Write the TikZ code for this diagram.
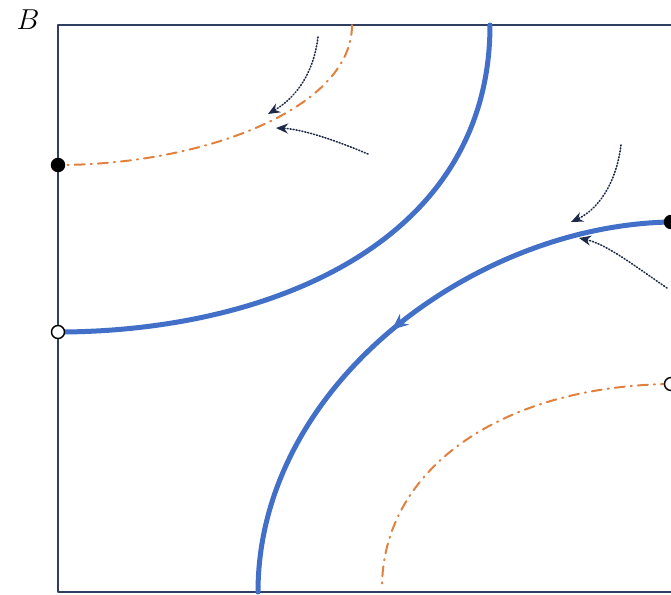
\documentclass[tikz,border=0pt]{standalone}
\usetikzlibrary{arrows.meta,decorations.markings}
\definecolor{frame}{HTML}{2E3F62}
\definecolor{sepblue}{HTML}{4270C8}
\definecolor{orborange}{HTML}{E2803E}
\definecolor{flownavy}{HTML}{1C2A48}
\begin{document}
\begin{tikzpicture}[x=0.5pt,y=-0.5pt,line cap=round,line join=round,
	sep/.style={sepblue,line width=2.5pt},
	orb/.style={orborange,line width=1pt,dash pattern=on 5pt off 3pt on 0.6pt off 3pt},
	flow/.style={flownavy,line width=0.8pt,dash pattern=on 0.5pt off 1pt,-{Stealth[length=6pt,width=5pt]}},
	dot/.style={circle,draw=black,line width=0.7pt,inner sep=0pt,minimum size=6.5pt},
	midarrow/.style={postaction={decorate},decoration={markings,mark=at position 0.5 with {\arrow{Stealth[length=8pt,width=7pt]}}}}]
	\clip (0,0) rectangle (671,595);
	\fill[white] (0,0) rectangle (671,595);
	\draw[frame,line width=0.8pt] (58,25) rectangle (700,592);
	\node (lab) at (28,20) {\Large$B$};
	% end points
	\coordinate (s1a) at (490,25);
	\coordinate (s1b) at (58,332);
	\coordinate (o1a) at (352,25);
	\coordinate (o1b) at (58,165);
	\coordinate (s2a) at (671,222);
	\coordinate (s2b) at (258,592);
	\coordinate (o2a) at (671,384);
	\coordinate (o2b) at (382,588);
	% curves
	\draw[sep] (s1a) .. controls (490,245) and (265,332) .. (s1b);
	\draw[orb] (o1a) .. controls (352,110) and (200,165) .. (o1b);
	\draw[sep,midarrow] (s2a) .. controls (475,225) and (258,385) .. (s2b);
	\draw[orb] (o2a) .. controls (500,386) and (382,470) .. (o2b);
	% flow arrows
	\coordinate (f1) at (318,37);  \coordinate (h1) at (268,114);
	\coordinate (f2) at (368,154); \coordinate (h2) at (276,128);
	\coordinate (f3) at (621,145); \coordinate (h3) at (571,222);
	\coordinate (f4) at (667,288); \coordinate (h4) at (579,238);
	\draw[flow] (f1) .. controls (313,78) and (292,100) .. (h1);
	\draw[flow] (f2) .. controls (330,138) and (300,129) .. (h2);
	\draw[flow] (f3) .. controls (616,185) and (597,210) .. (h3);
	\draw[flow] (f4) .. controls (632,264) and (606,244) .. (h4);
	% points on the edges
	\node[dot,fill=black] (p1) at (o1b) {};
	\node[dot,fill=white] (p2) at (s1b) {};
	\node[dot,fill=black] (p3) at (s2a) {};
	\node[dot,fill=white] (p4) at (o2a) {};
\end{tikzpicture}
\end{document}
